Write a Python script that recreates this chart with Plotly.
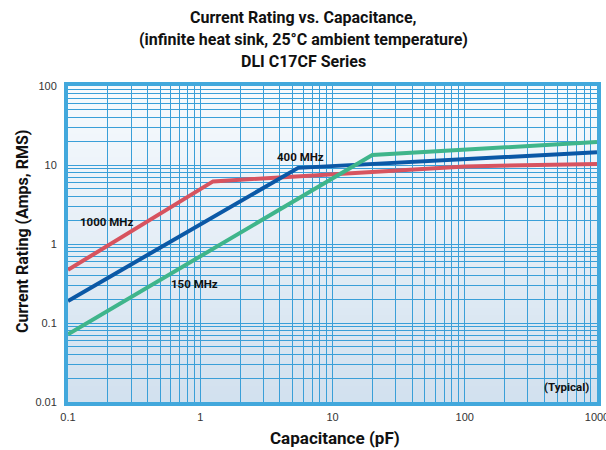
import numpy as np
import plotly.graph_objects as go

# ---- data ----
cap_1000 = [0.1, 1.25, 100, 1000]
amp_1000 = [0.47, 6.2, 9.6, 10.3]

cap_400 = [0.1, 5.5, 1000]
amp_400 = [0.19, 9.2, 14.5]

cap_150 = [0.1, 20, 1000]
amp_150 = [0.072, 13.4, 19.5]

series_names = ["1000 MHz", "400 MHz", "150 MHz"]
series_colors = ["#d7535f", "#0b58a6", "#3fb58b"]

x_tickvals = [0.1, 1, 10, 100, 1000]
x_ticktext = ["0.1", "1", "10", "100", "1000"]
y_tickvals = [0.01, 0.1, 1, 10, 100]
y_ticktext = ["0.01", "0.1", "1", "10", "100"]

title_lines = ["Current Rating vs. Capacitance,",
               "(infinite heat sink, 25°C ambient temperature)",
               "DLI C17CF Series"]

# label anchor points (data units)
label_pos = {"1000 MHz": (0.195, 1.9), "400 MHz": (5.7, 12.8), "150 MHz": (0.9, 0.314)}
typical_pos = (583, 0.0155)

COND = "Roboto, Liberation Sans, Arial, sans-serif"
REG = "Liberation Sans, Arial, sans-serif"
GRID = "#3a9fd8"
FRAME = "#42a8dc"

W, H = 606, 450
ML, MR, MT, MB = 68, 9, 86, 48
PH = H - MT - MB
PW = W - ML - MR

def minor_vals(lo_exp, hi_exp):
    vals = []
    for e in range(lo_exp, hi_exp):
        for d in range(2, 10):
            vals.append(d * 10.0 ** e)
    return vals

def px_x(px):
    return (px - ML) / PW

def px_y(py):
    return (H - MB - py) / PH

fig = go.Figure()
for xs, ys, name, col in zip([cap_1000, cap_400, cap_150],
                             [amp_1000, amp_400, amp_150],
                             series_names, series_colors):
    fig.add_trace(go.Scatter(x=xs, y=ys, mode="lines", name=name,
                             line=dict(color=col, width=4), showlegend=False))

# gradient background via stacked strips
n = 40
top = np.array([248, 251, 254])
bot = np.array([210, 225, 239])
shapes = []
for i in range(n):
    f = (i + 0.5) / n
    c = bot + (top - bot) * f
    shapes.append(dict(type="rect", xref="paper", yref="paper", x0=0, x1=1,
                       y0=i / n, y1=(i + 1) / n + 0.002, line=dict(width=0),
                       fillcolor="rgb(%d,%d,%d)" % tuple(c.astype(int)), layer="below"))

annotations = []
for name in series_names:
    x, y = label_pos[name]
    annotations.append(dict(x=np.log10(x), y=np.log10(y), xref="x", yref="y", text="<b>%s</b>" % name,
                            showarrow=False, font=dict(family=COND, size=11.5, color="#111")))
annotations.append(dict(x=np.log10(typical_pos[0]), y=np.log10(typical_pos[1]), xref="x", yref="y",
                        text="<b>(Typical)</b>", showarrow=False,
                        font=dict(family=COND, size=11.5, color="#111")))
# title block (page-centred), one annotation per line
for line, cy in zip(title_lines, [17.5, 39.5, 61.5]):
    annotations.append(dict(xref="paper", yref="paper", x=px_x(W / 2), y=px_y(cy),
                            xanchor="center", yanchor="middle",
                            text="<b>%s</b>" % line, showarrow=False,
                            font=dict(family=COND, size=16, color="#111")))
# axis titles
annotations.append(dict(xref="paper", yref="paper", x=px_x(335), y=px_y(438),
                        xanchor="center", yanchor="middle", text="<b>Capacitance (pF)</b>",
                        showarrow=False, font=dict(family=COND, size=17, color="#111")))
annotations.append(dict(xref="paper", yref="paper", x=px_x(22), y=px_y(232),
                        xanchor="center", yanchor="middle", text="<b>Current Rating (Amps, RMS)</b>",
                        textangle=-90, showarrow=False, font=dict(family=COND, size=16, color="#111")))

fig.update_layout(
    width=W, height=H,
    margin=dict(l=ML, r=MR, t=MT, b=MB, autoexpand=False),
    paper_bgcolor="white", plot_bgcolor="rgba(0,0,0,0)",
    shapes=shapes, annotations=annotations,
)
fig.update_xaxes(type="log", range=[-1, 3], tickvals=x_tickvals, ticktext=x_ticktext,
                 showgrid=True, gridcolor=GRID, gridwidth=1.2,
                 minor=dict(tickvals=minor_vals(-1, 3), showgrid=True, gridcolor=GRID, gridwidth=1.2),
                 showline=True, linecolor=FRAME, linewidth=4, mirror=True, ticks="",
                 tickfont=dict(family=REG, size=11, color="#333"), ticklabelstandoff=2,
                 ticklabeloverflow="allow", automargin=False, zeroline=False)
fig.update_yaxes(type="log", range=[-2, 2], tickvals=y_tickvals, ticktext=y_ticktext,
                 showgrid=True, gridcolor=GRID, gridwidth=1.2,
                 minor=dict(tickvals=minor_vals(-2, 2), showgrid=True, gridcolor=GRID, gridwidth=1.2),
                 showline=True, linecolor=FRAME, linewidth=4, mirror=True, ticks="",
                 tickfont=dict(family=REG, size=11, color="#333"), ticklabelstandoff=5,
                 ticklabeloverflow="allow", automargin=False, zeroline=False)

fig.write_html("out.html", config={"displayModeBar": False},
               post_script="document.body.style.margin='0';")
